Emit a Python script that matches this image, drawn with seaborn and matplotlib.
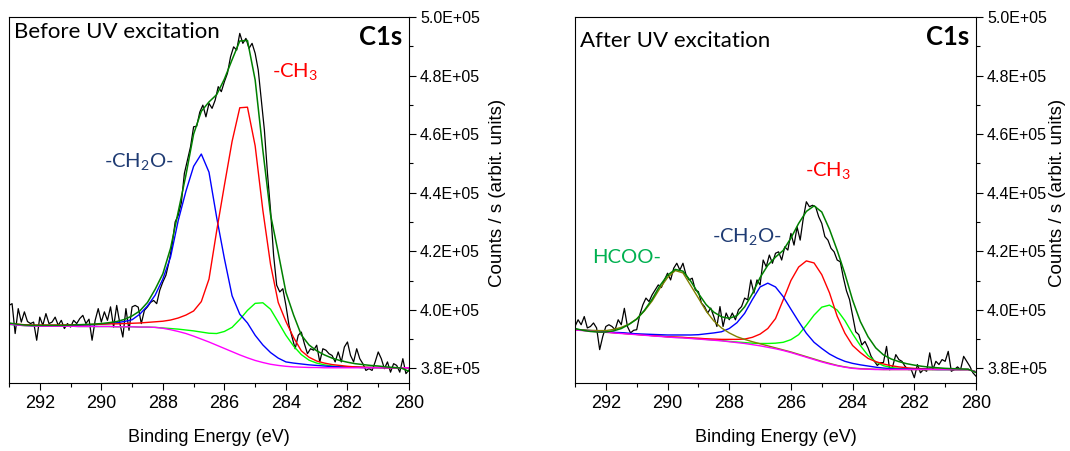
import numpy as np
import pandas as pd
import matplotlib
matplotlib.use("Agg")
import matplotlib.pyplot as plt
from matplotlib.ticker import MultipleLocator, FuncFormatter
import seaborn as sns

# binding energy grids (eV): raw spectrum every 0.1 eV, fitted curves every 0.25 eV
raw_be = np.round(np.arange(293.0, 279.95, -0.1), 2)
fit_be = np.round(np.arange(293.0, 279.9, -0.25), 2)

# ---- Before UV excitation (counts/s, in units of 1e3) ----
before_raw = [
    401.5, 402.1, 391.9, 400.4, 395.8, 399.3, 396.0, 395.3, 395.8, 389.6,
    397.5, 394.7, 398.7, 395.3, 395.8, 397.5, 394.7, 396.4, 393.6, 395.3,
    394.1, 396.4, 395.3, 397.0, 398.1, 395.3, 396.8, 389.6, 396.4, 400.4,
    395.8, 399.3, 396.4, 401.0, 394.1, 401.5, 395.5, 390.7, 400.4, 393.0,
    401.0, 401.5, 400.9, 395.3, 399.8, 401.0, 402.5, 403.2, 402.1, 406.7,
    409.5, 411.8, 416.3, 422.1, 430.0, 432.3, 436.5, 446.6, 451.1, 455.7,
    462.5, 462.7, 467.5, 469.9, 465.9, 470.5, 468.8, 471.6, 476.2, 474.5,
    477.9, 480.8, 486.4, 489.8, 488.7, 494.4, 491.0, 492.7, 489.3, 491.0,
    487.6, 481.9, 471.6, 461.4, 446.6, 434.0, 418.6, 408.4, 406.1, 407.2,
    401.5, 394.7, 390.7, 386.7, 391.3, 392.4, 388.4, 385.0, 386.7, 386.2,
    387.9, 382.2, 386.7, 386.2, 385.0, 384.4, 382.2, 385.6, 382.2, 387.3,
    389.0, 384.4, 382.2, 386.7, 383.3, 381.6, 379.3, 379.9, 379.3, 382.2,
    385.6, 383.3, 379.9, 382.2, 378.7, 381.6, 381.0, 378.7, 383.3, 378.2,
    379.5,
]
before_bg = [
    395.2, 394.8, 394.6, 394.5, 394.4, 394.4, 394.4, 394.4, 394.4, 394.3,
    394.3, 394.3, 394.3, 394.3, 394.2, 394.2, 394.2, 394.1, 394.1, 394.0,
    393.7, 393.2, 392.6, 391.9, 391.0, 390.0, 389.0, 387.9, 386.8, 385.7,
    384.6, 383.6, 382.7, 382.0, 381.4, 381.0, 380.7, 380.5, 380.4, 380.3,
    380.3, 380.2, 380.2, 380.2, 380.2, 380.2, 380.2, 380.2, 380.2, 380.2,
    380.2, 380.2, 380.2,
]
before_ch3 = [
    395.3, 395.1, 394.9, 394.8, 394.8, 394.8, 394.8, 394.8, 394.9, 394.9,
    394.9, 395.0, 395.1, 395.2, 395.2, 395.3, 395.4, 395.5, 395.7, 395.9,
    396.1, 396.5, 397.2, 398.2, 399.6, 402.8, 410.5, 427.0, 442.5, 457.5,
    469.0, 469.2, 456.0, 434.0, 415.5, 402.5, 396.0, 390.5, 386.0, 383.8,
    382.5, 381.8, 381.3, 381.0, 380.7, 380.5, 380.4, 380.3, 380.3, 380.2,
    380.2, 380.2, 380.2,
]
before_ch2o = [
    395.1, 394.9, 394.7, 394.6, 394.6, 394.6, 394.6, 394.6, 394.7, 394.7,
    394.8, 394.9, 395.1, 395.3, 395.6, 396.0, 396.6, 398.5, 401.3, 405.0,
    410.5, 418.0, 430.5, 440.5, 449.0, 453.2, 447.0, 431.5, 417.5, 404.8,
    398.5, 395.5, 391.3, 388.0, 385.4, 383.5, 382.2, 381.8, 381.5, 381.2,
    381.0, 380.8, 380.6, 380.5, 380.4, 380.4, 380.3, 380.3, 380.3, 380.2,
    380.2, 380.2, 380.2,
]
before_c3 = [
    395.0, 394.8, 394.6, 394.5, 394.4, 394.4, 394.4, 394.4, 394.4, 394.3,
    394.3, 394.3, 394.3, 394.3, 394.2, 394.2, 394.2, 394.1, 394.1, 394.0,
    393.8, 393.6, 393.4, 393.1, 392.8, 392.4, 392.0, 391.9, 392.6, 394.0,
    396.7, 399.8, 402.2, 402.4, 400.2, 395.8, 391.3, 387.6, 384.7, 382.8,
    381.8, 381.2, 380.8, 380.6, 380.5, 380.4, 380.3, 380.3, 380.2, 380.2,
    380.2, 380.2, 380.2,
]
before_env = [
    395.5, 395.1, 394.8, 394.7, 394.7, 394.7, 394.7, 394.7, 394.8, 394.9,
    395.0, 395.1, 395.3, 395.6, 396.0, 396.7, 397.9, 399.6, 402.5, 407.0,
    412.3, 421.0, 433.5, 446.0, 460.0, 467.8, 471.0, 473.5, 478.8, 485.4,
    491.8, 492.0, 478.5, 454.5, 432.5, 419.5, 406.0, 398.2, 391.4, 388.0,
    386.0, 384.6, 383.5, 382.7, 382.1, 381.6, 381.3, 381.0, 380.8, 380.5,
    380.3, 380.1, 379.0,
]

# ---- After UV excitation ----
after_raw = [
    394.3, 396.6, 394.9, 397.7, 393.8, 394.3, 395.5, 393.8, 386.4, 390.9,
    394.3, 394.9, 394.3, 393.2, 396.6, 394.9, 400.5, 394.3, 392.1, 393.0,
    393.2, 398.3, 401.7, 404.0, 402.8, 405.1, 406.8, 408.5, 407.6, 410.2,
    412.5, 410.2, 414.2, 415.9, 413.6, 415.9, 411.9, 410.2, 410.8, 406.8,
    406.2, 402.3, 401.1, 398.9, 400.6, 397.7, 394.3, 401.1, 394.3, 398.9,
    396.6, 398.9, 396.6, 400.0, 401.1, 404.0, 403.4, 410.2, 405.7, 410.2,
    408.5, 417.0, 414.7, 418.7, 415.9, 419.3, 419.8, 417.0, 421.5, 420.4,
    426.1, 422.1, 428.3, 423.8, 431.2, 436.9, 435.2, 435.7, 435.2, 431.8,
    429.5, 425.0, 423.8, 421.0, 419.8, 417.0, 416.4, 411.0, 406.5, 403.5,
    398.0, 392.5, 391.5, 388.0, 389.2, 387.0, 384.1, 382.5, 381.0, 381.9,
    382.0, 387.5, 379.5, 380.7, 384.7, 383.0, 382.4, 380.7, 379.6, 379.6,
    376.8, 381.3, 378.5, 379.6, 379.0, 385.3, 379.6, 382.4, 381.3, 383.0,
    382.4, 385.8, 379.0, 379.6, 380.5, 379.6, 384.1, 382.4, 380.7, 378.5,
    377.3,
]
after_bg = [
    393.1, 392.9, 392.7, 392.5, 392.3, 392.1, 391.9, 391.7, 391.5, 391.3,
    391.1, 390.9, 390.7, 390.5, 390.4, 390.2, 390.0, 389.8, 389.6, 389.4,
    389.1, 388.8, 388.5, 388.1, 387.7, 387.2, 386.7, 386.1, 385.4, 384.6,
    383.8, 383.0, 382.2, 381.5, 380.9, 380.4, 380.0, 379.8, 379.7, 379.6,
    379.6, 379.6, 379.6, 379.6, 379.6, 379.6, 379.6, 379.6, 379.6, 379.6,
    379.6, 379.6, 378.8,
]
after_hcoo = [
    393.3, 393.1, 393.0, 392.9, 392.9, 393.3, 394.0, 395.1, 396.9, 399.6,
    403.0, 407.3, 411.0, 413.4, 412.6, 408.3, 404.0, 399.6, 396.2, 393.8,
    392.1, 390.8, 389.9, 389.1, 388.4, 387.7, 387.0, 386.3, 385.6, 384.8,
    384.0, 383.2, 382.4, 381.7, 381.0, 380.5, 380.1, 379.9, 379.8, 379.7,
    379.6, 379.6, 379.6, 379.6, 379.6, 379.6, 379.6, 379.6, 379.6, 379.6,
    379.6, 379.6, 378.8,
]
after_ch2o = [
    393.3, 393.1, 392.9, 392.7, 392.5, 392.3, 392.2, 392.0, 391.8, 391.7,
    391.6, 391.5, 391.4, 391.4, 391.4, 391.4, 391.5, 391.8, 392.1, 392.5,
    393.6, 395.6, 398.8, 403.5, 407.8, 409.1, 407.8, 404.5, 400.2, 396.0,
    392.0, 388.9, 386.8, 384.9, 383.5, 382.4, 381.7, 381.2, 380.8, 380.4,
    380.1, 379.9, 379.8, 379.8, 379.7, 379.7, 379.7, 379.6, 379.6, 379.6,
    379.6, 379.6, 378.8,
]
after_ch3 = [
    393.2, 393.0, 392.8, 392.6, 392.4, 392.2, 392.0, 391.8, 391.6, 391.4,
    391.2, 391.0, 390.8, 390.7, 390.6, 390.4, 390.3, 390.1, 390.0, 389.9,
    389.9, 389.9, 390.0, 390.6, 391.7, 393.6, 397.0, 403.4, 410.0, 414.6,
    416.7, 416.0, 412.0, 405.8, 397.8, 392.0, 387.8, 385.4, 383.4, 382.3,
    381.5, 380.9, 380.5, 380.2, 380.0, 379.9, 379.8, 379.7, 379.7, 379.6,
    379.6, 379.6, 378.8,
]
after_c3 = [
    393.2, 393.0, 392.8, 392.6, 392.4, 392.2, 392.0, 391.8, 391.6, 391.4,
    391.2, 391.0, 390.8, 390.6, 390.5, 390.3, 390.1, 389.9, 389.7, 389.5,
    389.2, 389.0, 388.8, 388.6, 388.5, 388.5, 388.6, 388.9, 389.8, 391.5,
    394.7, 398.2, 400.9, 401.6, 399.9, 396.3, 391.8, 387.8, 384.4, 382.2,
    380.9, 380.3, 380.0, 379.8, 379.7, 379.6, 379.6, 379.6, 379.6, 379.6,
    379.6, 379.6, 378.8,
]
after_env = [
    393.6, 393.0, 392.6, 392.4, 392.4, 392.8, 393.6, 395.0, 396.8, 399.8,
    403.6, 408.2, 411.8, 413.8, 413.2, 409.8, 405.6, 401.8, 399.2, 397.6,
    397.1, 398.0, 401.0, 405.5, 411.0, 415.2, 418.0, 420.3, 424.5, 429.5,
    433.6, 435.5, 433.4, 427.5, 420.3, 412.3, 403.3, 396.0, 390.8, 387.0,
    384.6, 383.2, 382.3, 381.6, 381.1, 380.7, 380.4, 380.2, 380.0, 379.9,
    379.8, 379.7, 378.6,
]

panel_titles = ["Before UV excitation", "After UV excitation"]
title_y = [0.958, 0.935]
y_label = "Counts / s (arbit. units)"
x_label = "Binding Energy (eV)"

C_RAW, C_ENV = "black", "#008000"
C_CH3, C_CH2O, C_C3, C_BG, C_HCOO = "#ff0000", "#0000ff", "#00ff00", "#ff00ff", "#808000"


def fit_frame(**curves):
    df = pd.DataFrame({"be": fit_be, **curves})
    for c in curves:
        df[c] = df[c] * 1e3
    return df


sns.set_theme(style="ticks")
plt.rcParams["font.family"] = ["Liberation Sans", "DejaVu Sans"]
plt.rcParams["mathtext.fontset"] = "custom"
plt.rcParams["mathtext.rm"] = "Lato"
plt.rcParams["mathtext.it"] = "Lato:italic"
plt.rcParams["axes.linewidth"] = 0.8
plt.rcParams["axes.edgecolor"] = "black"
plt.rcParams["text.color"] = "black"
plt.rcParams["axes.labelcolor"] = "black"
plt.rcParams["xtick.color"] = "black"
plt.rcParams["ytick.color"] = "black"

fig = plt.figure(figsize=(10.7, 4.51), dpi=100)
ax_b = fig.add_axes([9 / 1070, 68 / 451, 400 / 1070, 366 / 451])
ax_a = fig.add_axes([575 / 1070, 68 / 451, 401 / 1070, 366 / 451])

raw_b = pd.DataFrame({"be": raw_be, "counts": np.array(before_raw) * 1e3})
raw_a = pd.DataFrame({"be": raw_be, "counts": np.array(after_raw) * 1e3})
fit_b = fit_frame(bg=before_bg, ch3=before_ch3, ch2o=before_ch2o, c3=before_c3, env=before_env)
fit_a = fit_frame(bg=after_bg, hcoo=after_hcoo, ch2o=after_ch2o, ch3=after_ch3,
                  c3=after_c3, env=after_env)

# before
sns.lineplot(data=raw_b, x="be", y="counts", ax=ax_b, color=C_RAW, lw=0.9)
sns.lineplot(data=fit_b, x="be", y="c3", ax=ax_b, color=C_C3, lw=1.0)
sns.lineplot(data=fit_b, x="be", y="ch2o", ax=ax_b, color=C_CH2O, lw=1.0)
sns.lineplot(data=fit_b, x="be", y="ch3", ax=ax_b, color=C_CH3, lw=1.0)
sns.lineplot(data=fit_b, x="be", y="bg", ax=ax_b, color=C_BG, lw=1.0)
sns.lineplot(data=fit_b, x="be", y="env", ax=ax_b, color=C_ENV, lw=1.1)

# after
sns.lineplot(data=raw_a, x="be", y="counts", ax=ax_a, color=C_RAW, lw=0.9)
sns.lineplot(data=fit_a, x="be", y="c3", ax=ax_a, color=C_C3, lw=1.0)
sns.lineplot(data=fit_a, x="be", y="ch3", ax=ax_a, color=C_CH3, lw=1.0)
sns.lineplot(data=fit_a, x="be", y="ch2o", ax=ax_a, color=C_CH2O, lw=1.0)
sns.lineplot(data=fit_a, x="be", y="hcoo", ax=ax_a, color=C_HCOO, lw=1.0)
sns.lineplot(data=fit_a, x="be", y="bg", ax=ax_a, color=C_BG, lw=1.0)
sns.lineplot(data=fit_a, x="be", y="env", ax=ax_a, color=C_ENV, lw=1.1)

sci = FuncFormatter(lambda v, p: f"{v / 1e5:.1f}E+05")
for ax, title, ty, lab_x in zip([ax_b, ax_a], panel_titles, title_y, [1.20, 1.183]):
    ax.set_xlim(293, 280)
    ax.set_ylim(375000, 500000)
    ax.xaxis.set_major_locator(MultipleLocator(2))
    ax.xaxis.set_minor_locator(MultipleLocator(1))
    ax.yaxis.set_major_locator(MultipleLocator(20000))
    ax.yaxis.set_minor_locator(MultipleLocator(10000))
    ax.yaxis.set_major_formatter(sci)
    ax.yaxis.tick_right()
    ax.yaxis.set_label_position("right")
    ax.tick_params(which="both", direction="out", left=False, right=True,
                   top=False, bottom=True, color="black", width=0.8)
    ax.tick_params(which="major", length=5)
    ax.tick_params(which="minor", length=3)
    ax.tick_params(axis="x", labelsize=13, pad=4)
    ax.tick_params(axis="y", labelsize=11.5, pad=3)
    for s in ax.spines.values():
        s.set_visible(True)
    ax.set_xlabel(x_label, fontsize=13, labelpad=12)
    ax.set_ylabel(y_label, fontsize=13.5)
    ax.yaxis.set_label_coords(lab_x, 0.52)
    ax.text(0.012, ty, title, transform=ax.transAxes, family="Lato",
            fontsize=16, ha="left", va="center")
    ax.text(0.982, 0.945, "C1s", transform=ax.transAxes, family="Lato",
            fontweight="bold", fontsize=18.5, ha="right", va="center")

# peak labels
ax_b.text(284.45, 481500, "-CH$_3$", color=C_CH3, family="Lato", fontsize=14.5,
          ha="left", va="center")
ax_b.text(289.9, 450500, "-CH$_2$O-", color="#1f3b73", family="Lato", fontsize=14.5,
          ha="left", va="center")
ax_a.text(285.55, 447500, "-CH$_3$", color=C_CH3, family="Lato", fontsize=14.5,
          ha="left", va="center")
ax_a.text(288.55, 425000, "-CH$_2$O-", color="#1f3b73", family="Lato", fontsize=14.5,
          ha="left", va="center")
ax_a.text(292.45, 418000, "HCOO-", color="#00b050", family="Lato", fontsize=14.5,
          ha="left", va="center")

fig.savefig("out.png", dpi=100)
